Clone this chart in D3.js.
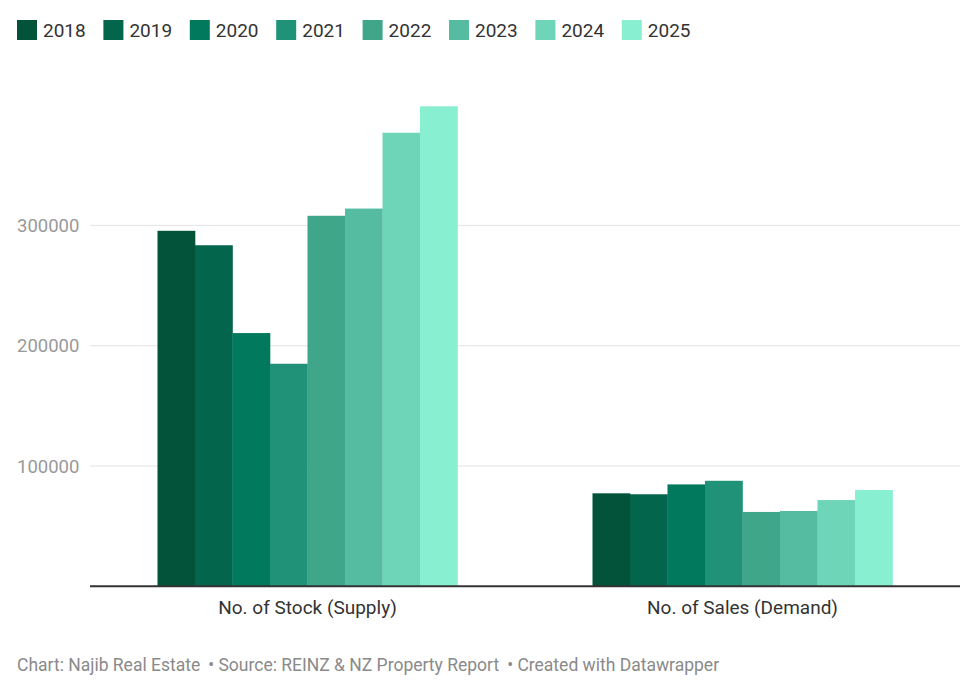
<!DOCTYPE html>
<html>
<head>
<meta charset="utf-8">
<script src="https://cdn.jsdelivr.net/npm/d3@7"></script>
<style>
  body { margin: 0; background: #fff; }
  text { font-family: Roboto, "Noto Sans", sans-serif; }
</style>
</head>
<body>
<script>
var categories = ['No. of Stock (Supply)', 'No. of Sales (Demand)'];
var years = ['2018', '2019', '2020', '2021', '2022', '2023', '2024', '2025'];
var supply = [295500, 283500, 210500, 185000, 308000, 314000, 377000, 399000];
var sales = [77300, 76500, 84700, 87700, 61800, 62600, 71700, 80000];
var yTicks = [100000, 200000, 300000];
var colors = ['#03523a', '#02654c', '#00795d', '#1f9277', '#3fa68a', '#56bca1', '#6fd5b8', '#88f0d1'];

var series = [supply, sales];

var svg = d3.select('body').append('svg')
        .attr('width', 976)
        .attr('height', 692);

var x0 = d3.scaleBand().domain(categories).range([90, 960]).padding(0);
var x1 = d3.scaleBand().domain(years).range([0, x0.bandwidth()])
        .paddingInner(0).paddingOuter(1.8);
var y = d3.scaleLinear().domain([0, 400000]).range([586.3, 105.1]);
var color = d3.scaleOrdinal().domain(years).range(colors);

// legend
var legend = svg.append('g').selectAll('g')
  .data(years)
  .enter().append('g')
    .attr('transform', function(d, i) { return 'translate(' + (17 + i * 86.4) + ',20)'; });
legend.append('rect')
    .attr('width', 20).attr('height', 20)
    .attr('fill', function(d) { return color(d); });
legend.append('text')
    .attr('x', 26).attr('y', 17)
    .attr('font-size', 19).attr('fill', '#333')
    .text(function(d) { return d; });

// grid + y labels
svg.append('g').selectAll('line')
  .data(yTicks)
  .enter().append('line')
    .attr('x1', 90).attr('x2', 960)
    .attr('y1', function(d) { return y(d); })
    .attr('y2', function(d) { return y(d); })
    .attr('stroke', '#e3e3e3').attr('stroke-width', 1);

svg.append('g').selectAll('text')
  .data(yTicks)
  .enter().append('text')
    .attr('x', 17)
    .attr('y', function(d) { return y(d) + 6.5; })
    .attr('font-size', 18.5).attr('fill', '#999')
    .text(function(d) { return d; });

// bars
var groups = svg.append('g').selectAll('g')
  .data(categories)
  .enter().append('g')
    .attr('transform', function(d) { return 'translate(' + x0(d) + ',0)'; });

groups.selectAll('rect')
  .data(function(d, i) { return years.map(function(yr, j) { return {year: yr, value: series[i][j]}; }); })
  .enter().append('rect')
    .attr('x', function(d) { return x1(d.year); })
    .attr('width', x1.bandwidth() + 0.3)
    .attr('y', function(d) { return y(d.value); })
    .attr('height', function(d) { return y(0) - y(d.value); })
    .attr('fill', function(d) { return color(d.year); });

// baseline
svg.append('line')
    .attr('x1', 90).attr('x2', 960)
    .attr('y1', y(0)).attr('y2', y(0))
    .attr('stroke', '#333').attr('stroke-width', 2);

// x labels
svg.append('g').selectAll('text')
  .data(categories)
  .enter().append('text')
    .attr('x', function(d) { return x0(d) + x0.bandwidth() / 2; })
    .attr('y', 613.5)
    .attr('text-anchor', 'middle')
    .attr('font-size', 19).attr('fill', '#333')
    .text(function(d) { return d; });

// footer
var foot = svg.append('text')
    .attr('x', 17).attr('y', 671)
    .attr('font-size', 17.5).attr('fill', '#8a8a8a');
foot.append('tspan').text('Chart: Najib Real Estate');
foot.append('tspan').attr('dx', 8).text('• Source: REINZ & NZ Property Report');
foot.append('tspan').attr('dx', 8).text('• Created with Datawrapper');
</script>
</body>
</html>
